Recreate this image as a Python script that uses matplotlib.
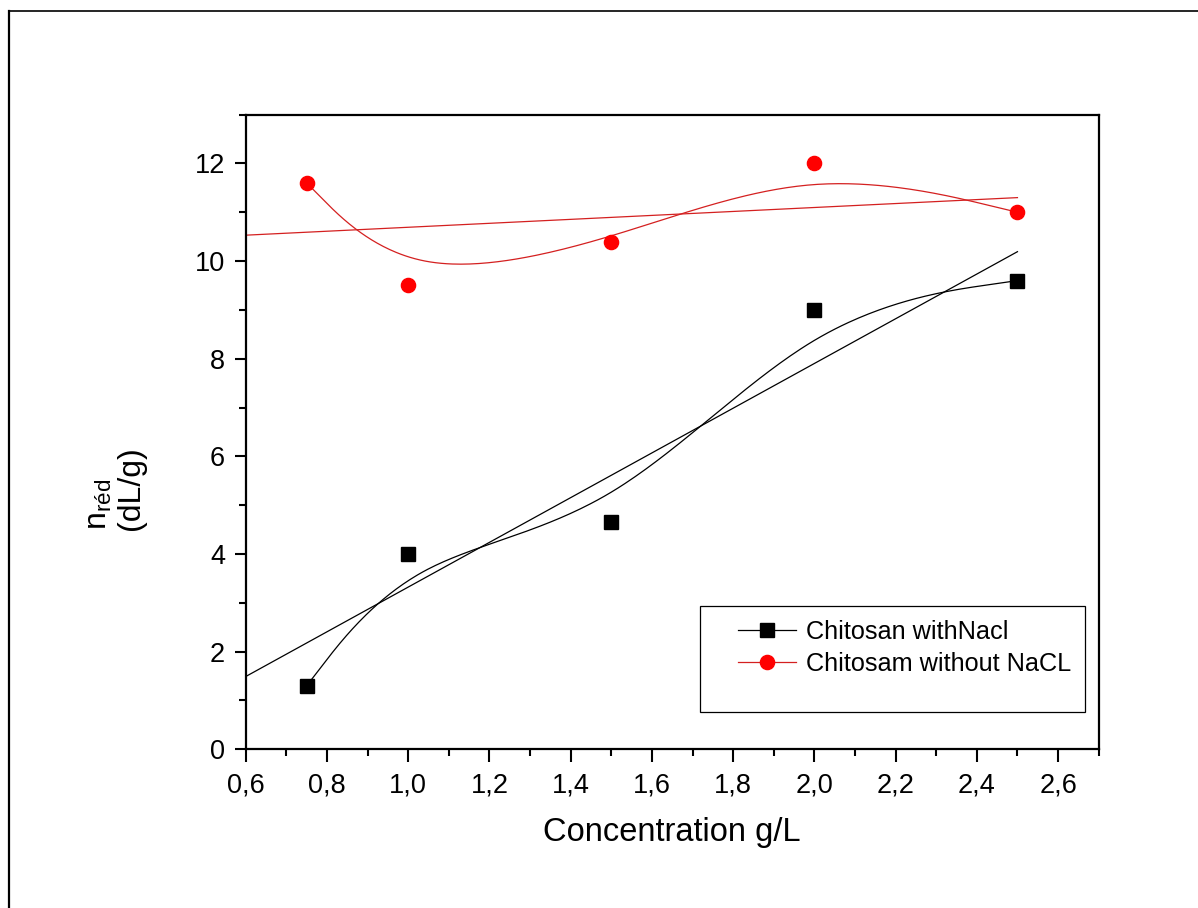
import numpy as np
import matplotlib
matplotlib.use("Agg")
import matplotlib.pyplot as plt
from matplotlib.lines import Line2D
from matplotlib.patches import Rectangle
from matplotlib.ticker import MultipleLocator, FuncFormatter

plt.rcParams["font.family"] = ["Liberation Sans", "DejaVu Sans"]
plt.rcParams["mathtext.fontset"] = "custom"
plt.rcParams["mathtext.rm"] = "Liberation Sans"

# data
conc = [0.75, 1.0, 1.5, 2.0, 2.5]
with_nacl = [1.3, 4.0, 4.65, 9.0, 9.6]
without_nacl = [11.6, 9.5, 10.4, 12.0, 11.0]
labels = ["Chitosan withNacl", "Chitosam without NaCL"]
# linear fits as drawn in the figure (slope, intercept)
fit_with = (4.58, -1.258)
fit_without = (0.405, 10.287)
fit_range = (0.6, 2.5)


def bspline(px, py, n=60):
    # uniform cubic B-spline, end points repeated so the curve starts/ends on them
    P = np.column_stack([px, py]).astype(float)
    P = np.vstack([P[:1], P[:1], P, P[-1:], P[-1:]])
    t = np.linspace(0, 1, n)[:, None]
    b0 = (1 - t) ** 3 / 6
    b1 = (3 * t ** 3 - 6 * t ** 2 + 4) / 6
    b2 = (-3 * t ** 3 + 3 * t ** 2 + 3 * t + 1) / 6
    b3 = t ** 3 / 6
    segs = [b0 * P[i] + b1 * P[i + 1] + b2 * P[i + 2] + b3 * P[i + 3] for i in range(len(P) - 3)]
    c = np.vstack(segs)
    return c[:, 0], c[:, 1]


fig = plt.figure(figsize=(11.98, 9.08), dpi=100)
ax = fig.add_axes([0.2051, 0.1748, 0.712, 0.699])

series = [
    (with_nacl, fit_with, "black", "black", "s"),
    (without_nacl, fit_without, "#d42020", "#ff0000", "o"),
]
for ys, (a, b), lc, col, mk in series:
    bx, by = bspline(conc, ys)
    ax.plot(bx, by, color=lc, lw=0.9, zorder=2)
    fx = np.array(fit_range)
    ax.plot(fx, a * fx + b, color=lc, lw=0.9, zorder=2)
    ax.plot(conc, ys, linestyle="none", marker=mk, color=col, ms=10.2, mec=col, zorder=3)

ax.set_xlim(0.6, 2.7)
ax.set_ylim(0, 13)
ax.xaxis.set_major_locator(MultipleLocator(0.2))
ax.xaxis.set_minor_locator(MultipleLocator(0.1))
ax.yaxis.set_major_locator(MultipleLocator(2))
ax.yaxis.set_minor_locator(MultipleLocator(1))
ax.xaxis.set_major_formatter(FuncFormatter(lambda v, p: f"{v:.1f}".replace(".", ",")))
ax.yaxis.set_major_formatter(FuncFormatter(lambda v, p: f"{v:.0f}"))
ax.tick_params(which="both", direction="out", width=1.5, labelsize=19.5, top=False, right=False)
ax.tick_params(axis="x", which="major", length=9.5, pad=7.5)
ax.tick_params(axis="y", which="major", length=8, pad=7)
ax.tick_params(which="minor", length=5)
for s in ax.spines.values():
    s.set_linewidth(1.6)

ax.set_xlabel("Concentration g/L", fontsize=23.5, labelpad=13)
fig.text(0.096, 0.462, "n$_{\\mathregular{réd}}$\n(dL/g)", rotation=90, ha="center", va="center",
         fontsize=23, multialignment="left", linespacing=1.1)

handles = [
    Line2D([], [], color="black", lw=0.9, marker="s", ms=10.2),
    Line2D([], [], color="#d42020", lw=0.9, marker="o", ms=10.2, mfc="#ff0000", mec="#ff0000"),
]
ax.legend(handles, labels, loc="upper left", bbox_to_anchor=(0.616, 0.317),
          bbox_transform=fig.transFigure, frameon=False, fontsize=18.2,
          handlelength=2.3, handletextpad=0.4, labelspacing=0.3, borderpad=0, borderaxespad=0)
fig.add_artist(Rectangle((0.5843, 0.2159), 0.3214, 0.1167, transform=fig.transFigure,
                         fill=False, edgecolor="black", lw=0.9))

# outer frame (top and left edges visible)
fig.add_artist(Line2D([0.0075, 1.0], [0.988, 0.988], transform=fig.transFigure, color="black", lw=1.2))
fig.add_artist(Line2D([0.0075, 0.0075], [0.0, 0.988], transform=fig.transFigure, color="black", lw=1.6))

fig.savefig("out.png", dpi=100)
